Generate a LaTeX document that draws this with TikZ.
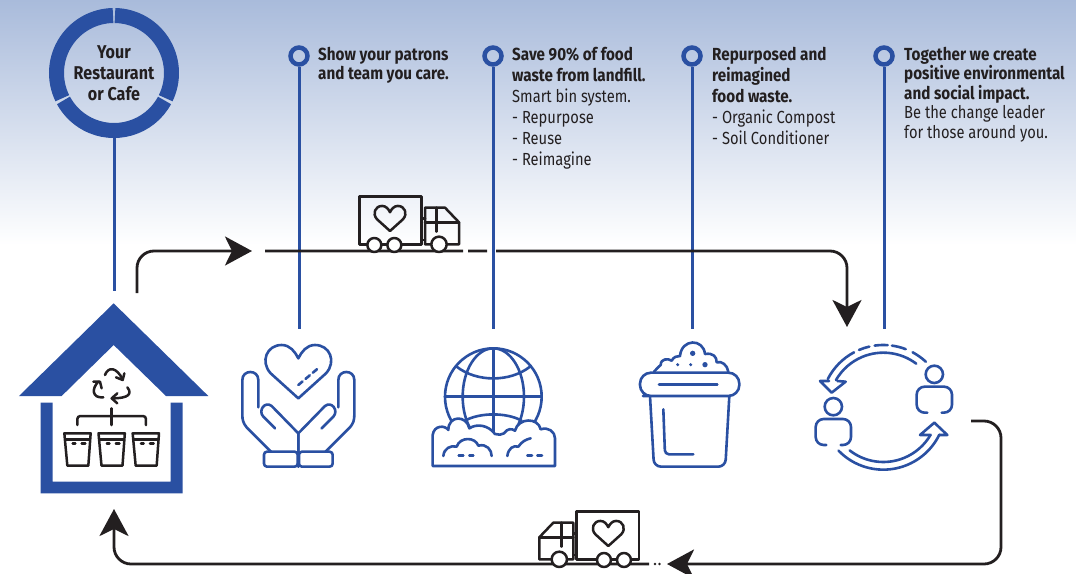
\documentclass[tikz,border=0pt]{standalone}
\usepackage{fontspec}
\setmainfont[FakeStretch=0.84,BoldFeatures={FakeStretch=0.87}]{Fira Sans}
\usetikzlibrary{arrows.meta,positioning,calc}
\definecolor{FlowBlue}{HTML}{2A50A2}
\definecolor{FlowInk}{HTML}{231F20}
\definecolor{SkyTop}{HTML}{A9BBDB}
\tikzset{
  herz/.pic={
    \draw[pic actions] (0,0) -- (-83,-75) .. controls (-115,-110) and (-95,-160) .. (-50,-160) .. controls (-25,-160) and (-10,-140) .. (0,-120) .. controls (10,-140) and (25,-160) .. (50,-160) .. controls (95,-160) and (115,-110) .. (83,-75) -- cycle;
  },
  truck/.pic={
    \draw[pic actions] (58,178) -- (58,35) -- (245,35) -- (245,178) -- cycle;
    \draw[pic actions] (245,100) -- (255,100) (245,165) -- (255,165);
    \draw[pic actions] (255,178) -- (255,68) -- (315,68) -- (357,112) -- (357,178) -- cycle;
    \draw[pic actions] (255,112) -- (357,112) (290,68) -- (290,140);
    \pic[inkicon, scale=0.47] at (150,138) {herz};
    \draw[pic actions, fill=white] (103,180) circle[radius=21];
    \draw[pic actions, fill=white] (163,180) circle[radius=21];
    \draw[pic actions, fill=white] (297,178) circle[radius=23];
  },
  hand/.pic={
    \draw[pic actions] (-82,485) -- (-155,412) .. controls (-165,400) and (-168,390) .. (-168,375) -- (-168,270) .. controls (-168,238) and (-120,238) .. (-120,270) -- (-120,352);
    \draw[pic actions] (-70,415) -- (-105,380) .. controls (-122,362) and (-100,332) .. (-80,348) -- (0,430) -- (0,530);
    \draw[pic actions, rounded corners=3pt] (-103,485) rectangle (-2,530);
  },
  person/.pic={
    \draw[pic actions] (0,0) circle[radius=26];
    \draw[pic actions, rounded corners=8pt] (-21,115) -- (-53,115) -- (-53,37) -- (53,37) -- (53,115) -- (22,115);
  }
}
\begin{document}
\begin{tikzpicture}[x=1pt,y=-1pt,>=Latex,transform shape]
  \tikzstyle{blueline}=[draw=FlowBlue, line width=3pt]
  \tikzstyle{pinring}=[circle, draw=FlowBlue, line width=4.5pt, minimum size=17pt, inner sep=0pt]
  \tikzstyle{inkroad}=[draw=FlowInk, line width=2.8pt]
  \tikzstyle{inkline}=[inkroad, rounded corners=17pt]
  \tikzstyle{bighead}=[-{Stealth[length=27pt,width=29pt,inset=7pt]}]
  \tikzstyle{icon}=[draw=FlowBlue, line width=2.6pt, line cap=round, line join=round]
  \tikzstyle{inkicon}=[draw=FlowInk, line width=2.5pt, line cap=round, line join=round]
  \tikzstyle{lbl}=[anchor=north west, inner sep=0pt, align=left, text=FlowInk, font=\fontsize{17.5}{21}\selectfont]
  \tikzstyle{lbltight}=[lbl, font=\fontsize{17.5}{19.5}\selectfont]
  \useasboundingbox (0,0) rectangle (1076,573);
  \shade[top color=SkyTop, bottom color=white] (0,0) rectangle (1076,245);
  \node[circle, minimum size=130pt, inner sep=0pt, align=center, text=FlowInk, font=\fontsize{18.5}{21}\selectfont\bfseries] (ring) at (114,73) {Your\\Restaurant\\or Cafe};
  \foreach \sa/\ea in {-89/26, 28.5/151.5, 154/269}
    \draw[FlowBlue, line width=15pt] (ring.center) ++(\sa:57.5) arc[start angle=\sa, end angle=\ea, radius=57.5];
  \node[pinring] (pinA) at (299,56) {};
  \node[pinring] (pinB) at (493,56) {};
  \node[pinring] (pinC) at (692,56) {};
  \node[pinring] (pinD) at (884,56) {};
  \node[lbltight] (txtA) at (318,47) {\textbf{Show your patrons}\\\textbf{and team you care.}};
  \node[lbl] (txtB) at (512,47) {\textbf{Save 90\% of food}\\\textbf{waste from landfill.}\\Smart bin system.\\- Repurpose\\- Reuse\\- Reimagine};
  \node[lbl] (txtC) at (712,47) {\textbf{Repurposed and}\\\textbf{reimagined}\\\textbf{food waste.}\\- Organic Compost\\- Soil Conditioner};
  \node[lbltight] (txtD) at (904,47) {\textbf{Together we create}\\\textbf{positive environmental}\\\textbf{and social impact.}\\Be the change leader\\for those around you.};
  \coordinate (houseTop) at (114,291);
  \coordinate (heartTop) at (299,329);
  \coordinate (globeTop) at (493,329);
  \coordinate (bucketTop) at (692,329);
  \coordinate (cycleTop) at (884,329);
  \draw[blueline] (ring.south) -- (houseTop);
  \draw[blueline] (pinA) -- (heartTop);
  \draw[blueline] (pinB) -- (globeTop);
  \draw[blueline] (pinC) -- (bucketTop);
  \draw[blueline] (pinD) -- (cycleTop);
  \coordinate (outStart) at (137,293);
  \coordinate (outHead) at (252,251);
  \coordinate (roadA) at (265,251);
  \coordinate (roadAEnd) at (463,251.06);
  \coordinate (roadDashA) at (468,251);
  \coordinate (roadDashB) at (487,251.06);
  \coordinate (roadB) at (496,251);
  \coordinate (roadHead) at (847,327);
  \coordinate (backStart) at (971,421);
  \coordinate (backHead) at (667,564);
  \coordinate (backDot) at (655,564);
  \coordinate (backRoad) at (649,564);
  \coordinate (houseHead) at (114,509);
  \draw[inkline, bighead] (outStart) |- (outHead);
  \draw[inkroad] (roadA) -- (roadAEnd);
  \draw[inkroad] (roadDashA) -- (roadDashB);
  \draw[inkline, bighead] (roadB) -| (roadHead);
  \draw[inkline, bighead] (backStart) -- (1001,421) -- (1001,564) -- (backHead);
  \draw[inkline, bighead] (backRoad) -| (houseHead);
  \fill[FlowInk] (backDot) circle[radius=1.3];
  \fill[FlowInk] (659.5,564) circle[radius=1.3];
  \pic[inkicon, shift={(340,185)}, scale=1/3] {truck};
  \pic[inkicon, shift={(658.3,500)}, xscale=-1/3, yscale=1/3] {truck};
  \begin{scope}[shift={(0,290)}, scale=1/3]
    \fill[FlowBlue] (341,40) -- (625,318) -- (498,318) -- (341,165) -- (185,318) -- (57,318) -- cycle;
    \fill[FlowBlue] (122,338) -- (158,338) -- (158,575) -- (512,575) -- (512,338) -- (548,338) -- (548,610) -- (122,610) -- cycle;
    \draw[inkicon] (315,255) .. controls (325,228) and (350,232) .. (368,268);
    \draw[inkicon] (348,262) -- (368,270) -- (373,250);
    \draw[inkicon] (382,292) .. controls (398,312) and (385,325) .. (337,325);
    \draw[inkicon] (352,310) -- (335,325) -- (352,340);
    \draw[inkicon] (310,322) .. controls (275,325) and (275,295) .. (295,275);
    \draw[inkicon] (280,275) -- (300,275) -- (305,295);
    \draw[inkicon] (335,355) -- (335,405);
    \draw[inkicon, rounded corners=3pt] (232,405) -- (232,378) -- (438,378) -- (438,405);
    \foreach \bx in {0,102.5,205} {
      \begin{scope}[xshift=\bx*1pt]
        \draw[inkicon] (193,430) -- (272,430) -- (265,527) -- (202,527) -- cycle;
        \draw[inkicon] (197,448) -- (268,448);
        \draw[inkicon] (218,460) -- (226,460) (245,460) -- (256,460);
      \end{scope}
    }
    \pic[icon] at (895,325) {herz};
    \draw[icon, dash pattern=on 5.5pt off 4pt] (895,285) -- (960,230);
    \pic[icon] at (895,0) {hand};
    \pic[icon, xscale=-1] at (895,0) {hand};
  \end{scope}
  \begin{scope}[shift={(420,330)}, scale=1/3]
    \draw[icon] (220,200) circle[radius=145];
    \draw[icon] (220,200) ellipse[x radius=92, y radius=145];
    \draw[icon] (220,55) -- (220,345) (75,200) -- (365,200);
    \draw[icon] (110,110) .. controls (170,157) and (270,157) .. (330,110);
    \draw[icon] (135,272) .. controls (180,247) and (260,247) .. (305,272);
    \draw[icon, fill=white] (38,408) -- (38,315) .. controls (42,285) and (75,285) .. (85,300) .. controls (85,255) and (140,255) .. (148,295) .. controls (170,280) and (205,285) .. (225,312) .. controls (235,315) and (245,315) .. (252,310) .. controls (262,295) and (275,295) .. (285,302) .. controls (295,262) and (355,262) .. (362,298) .. controls (385,290) and (405,305) .. (405,325) -- (405,408) -- cycle;
    \draw[icon] (70,378) .. controls (72,355) and (92,345) .. (110,350) .. controls (120,320) and (165,320) .. (175,347) .. controls (200,340) and (215,360) .. (215,378);
    \draw[icon] (262,378) .. controls (265,355) and (280,345) .. (295,350) .. controls (305,335) and (318,328) .. (332,325);
    \draw[icon] (116,376) -- (130,376) (148,376) -- (160,376) (322,376) -- (336,376) (352,376) -- (366,376);
    \draw[icon, rounded corners=11pt] (702,198) -- (660,198) -- (660,128) -- (958,128) -- (958,198) -- cycle;
    \draw[icon] (717,164) -- (892,164);
    \draw[icon, rounded corners=7pt] (690,198) -- (702,410) -- (916,410) -- (928,198);
    \draw[icon, rounded corners=4pt] (730,238) -- (735,373) -- (820,373);
    \draw[icon] (702,125) .. controls (712,115) and (715,110) .. (722,105) .. controls (722,85) and (745,85) .. (755,92) .. controls (762,80) and (770,78) .. (780,78) .. controls (785,25) and (850,25) .. (855,72) .. controls (880,68) and (890,80) .. (890,97) .. controls (905,92) and (922,105) .. (925,125);
    \fill[FlowBlue] (818,70) circle[radius=8] (773,104) circle[radius=5] (812,104) circle[radius=5] (855,104) circle[radius=8];
  \end{scope}
  \begin{scope}[shift={(790,320)}, scale=1/3]
    \coordinate (hub) at (280,262);
    \pic[icon] at (433,163) {person};
    \pic[icon] at (130,260) {person};
    \foreach \sa/\ea in {-47/-62, -69/-82, -86/-98, -103/-113, -118/-153}
      \draw[icon] (hub) ++(\sa:187) arc[start angle=\sa, end angle=\ea, radius=187];
    \draw[icon] (hub) ++(-53:164) arc[start angle=-53, end angle=-150, radius=164];
    \draw[icon] (117,183) -- (90,183) -- (125,218) -- (167,185) -- (142,183);
    \draw[icon] (hub) ++(136:187) arc[start angle=136, end angle=26, radius=187];
    \draw[icon] (hub) ++(128:164) arc[start angle=128, end angle=30, radius=164];
    \draw[icon] (420,345) -- (390,345) -- (433,308) -- (472,345) -- (448,345);
  \end{scope}
\end{tikzpicture}
\end{document}
